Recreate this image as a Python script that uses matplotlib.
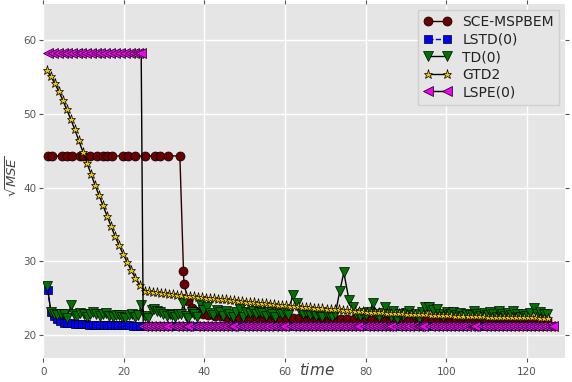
import matplotlib

matplotlib.use("Agg")
import matplotlib.pyplot as plt

# SCE-MSPBEM: flat plateau, sharp drop around t=34
sce_t = [1.2, 2.1, 4.6, 5.8, 7.1, 9.1, 9.9, 11.6, 13.3, 14.9, 15.7, 17.0, 19.9,
         21.1, 22.8, 25.2, 27.7, 29.0, 31.0, 33.9, 34.8, 34.9, 36.0, 36.8, 37.7,
         38.6, 39.6,
         41.0, 42.5, 44.0, 45.5, 47.0, 48.5, 50.0, 51.5, 53.0, 54.5, 56.0, 57.5,
         59.0, 60.5, 62.0, 63.5, 65.0, 66.5, 68.0, 69.5, 71.0, 72.5, 74.0, 75.5,
         77.0, 78.5, 80.0, 81.5, 83.0, 84.5, 86.0, 87.5, 89.0, 90.5, 92.0, 93.5,
         95.0, 96.5, 98.0, 99.5, 101.0, 102.5, 104.0, 105.5, 107.0, 108.5, 110.0,
         111.5, 113.0, 114.5, 116.0, 117.5, 119.0, 120.5, 122.0, 123.5, 125.0]
sce_mse = [44.3, 44.3, 44.3, 44.3, 44.3, 44.3, 44.3, 44.3, 44.3, 44.3, 44.3, 44.3,
           44.3, 44.3, 44.3, 44.3, 44.3, 44.3, 44.3, 44.3, 28.7, 27.0, 24.6, 23.7,
           23.3, 23.0, 22.8,
           22.7, 22.6, 22.6, 22.5, 22.5, 22.5, 22.4, 22.4, 22.4, 22.4, 22.3, 22.3,
           22.3, 22.3, 22.3, 22.3, 22.2, 22.2, 22.2, 22.2, 22.2, 22.2, 22.2, 22.2,
           22.2, 22.1, 22.1, 22.1, 22.1, 22.1, 22.1, 22.1, 22.1, 22.1, 22.1, 22.1,
           22.1, 22.1, 22.0, 22.0, 22.0, 22.0, 22.0, 22.0, 22.0, 22.0, 22.0,
           22.0, 22.0, 22.0, 22.0, 22.0, 22.0, 22.0, 22.0, 22.0, 22.0]

# LSTD(0)
lstd_t = [1.1, 1.9, 2.6, 3.4, 4.2, 5.1, 6.0, 6.9, 7.8, 8.7, 9.6, 10.5, 11.4, 12.3,
          13.2, 14.1, 15.0, 15.9, 16.8, 17.7, 18.6, 19.5, 20.4, 21.3, 22.2, 23.1,
          24.0, 25.3, 27.3, 29.3, 31.4, 33.3, 35.3, 36.8, 38.8, 40.8, 42.8, 44.8,
          46.8, 48.0, 50.0, 52.0, 54.0, 56.0, 58.0, 60.6, 62.6, 64.6, 66.6, 68.6,
          70.6, 72.6, 74.6, 76.6, 78.9, 80.9, 82.9, 84.9, 87.0, 89.0, 91.0, 93.0,
          95.0, 97.0, 99.0, 101.0, 103.0, 105.0, 108.0, 110.0, 112.0, 114.0, 116.0,
          118.0, 120.0, 122.0, 124.0, 125.8]
lstd_mse = [26.1, 23.1, 22.6, 22.2, 21.9, 21.7, 21.6, 21.6, 21.5, 21.5, 21.5, 21.5,
            21.4, 21.4, 21.4, 21.4, 21.4, 21.4, 21.4, 21.35, 21.35, 21.35, 21.35,
            21.35, 21.3, 21.3, 21.3, 21.3, 21.3, 21.3, 21.3, 21.3, 21.3, 21.3, 21.3,
            21.3, 21.3, 21.3, 21.3, 21.3, 21.3, 21.3, 21.3, 21.3, 21.3, 21.3, 21.3,
            21.3, 21.3, 21.3, 21.3, 21.3, 21.3, 21.3, 21.25, 21.25, 21.25, 21.25,
            21.25, 21.25, 21.25, 21.25, 21.25, 21.25, 21.25, 21.25, 21.25, 21.25,
            21.25, 21.25, 21.25, 21.25, 21.25, 21.25, 21.25, 21.25, 21.25, 21.25]

# TD(0): noisy around 23
td_t = [1.0, 1.9, 2.7, 3.5, 4.3, 5.1, 5.9, 6.9, 7.6, 8.4, 9.2, 10.0, 10.8, 11.6,
        12.4, 13.2, 14.0, 14.8, 15.6, 16.4, 17.2, 18.0, 18.8, 19.6, 20.4, 21.2,
        22.0, 22.8, 23.6, 24.3, 25.2, 26.1, 26.9, 27.6, 28.2, 29.0, 29.8, 30.6,
        31.4, 31.9, 32.7, 33.4, 34.1, 34.8, 35.5, 36.0, 36.8, 37.5, 38.2, 38.9,
        39.6, 40.6, 41.4, 42.2, 43.0, 43.8, 44.6, 45.4, 46.2, 47.0, 47.8, 48.8,
        49.6, 50.4, 51.2, 52.0, 52.8, 53.6, 54.4, 55.2, 56.0, 56.8, 57.6, 58.4,
        59.2, 60.0, 60.8, 61.9, 62.9, 63.7, 64.5, 65.3, 66.1, 66.9, 67.7, 68.5,
        69.3, 70.1, 70.9, 71.7, 72.5, 73.6, 74.6, 75.9, 76.9, 77.7, 78.5, 79.3,
        80.1, 80.9, 81.8, 82.6, 83.4, 84.2, 84.8, 85.6, 86.4, 86.9, 87.7, 88.5,
        89.3, 90.1, 90.9, 91.7, 92.5, 93.3, 94.1, 94.8, 95.8, 96.7, 97.7, 98.5,
        99.3, 100.2, 101.0, 101.8, 102.6, 103.4, 104.2, 105.0, 105.8, 106.9,
        107.7, 108.5, 109.3, 110.1, 110.9, 111.7, 112.5, 113.0, 113.8, 114.6,
        115.4, 116.2, 116.7, 117.5, 118.3, 119.1, 119.9, 120.7, 121.8, 122.6,
        123.4, 124.2, 125.0]
td_mse = [26.6, 23.2, 22.9, 22.7, 22.8, 22.9, 22.3, 24.1, 22.8, 22.6, 23.0, 22.9,
          22.4, 22.9, 23.1, 22.8, 22.6, 22.8, 23.0, 22.6, 22.4, 22.7, 22.7, 22.5,
          22.3, 22.7, 22.9, 22.5, 22.7, 24.1, 22.6, 22.3, 23.4, 23.6, 23.3, 23.1,
          22.9, 22.6, 22.8, 22.7, 22.5, 22.8, 22.9, 24.3, 22.6, 22.3, 23.2, 22.9,
          22.5, 24.3, 23.4, 23.8, 23.0, 22.7, 23.4, 23.1, 22.6, 23.3, 22.9, 22.4,
          23.2, 23.6, 22.5, 23.1, 23.0, 23.3, 22.8, 23.2, 23.0, 22.6, 23.2, 22.9,
          22.5, 23.1, 22.8, 23.2, 22.7, 25.5, 24.3, 23.3, 22.9, 23.1, 22.7, 23.0,
          22.6, 22.9, 22.5, 23.0, 22.7, 22.4, 22.9, 26.0, 28.5, 24.7, 23.8, 22.9,
          22.6, 23.0, 22.7, 23.1, 24.3, 22.9, 22.5, 23.0, 23.8, 22.8, 22.4, 23.3,
          22.2, 22.9, 22.6, 23.0, 23.3, 22.7, 22.9, 22.2, 23.1, 23.8, 23.8, 23.4,
          23.6, 22.9, 22.5, 23.2, 22.8, 23.1, 22.7, 23.0, 22.6, 22.9, 22.7, 23.3,
          22.9, 22.6, 23.0, 22.7, 23.1, 22.8, 22.5, 23.3, 22.9, 22.6, 23.0, 22.7,
          23.3, 22.9, 22.5, 22.8, 22.6, 23.0, 23.7, 22.9, 23.2, 22.8, 22.9]

# GTD2: steep linear descent, then slow decay
gtd2_t = [0.8, 1.8, 2.8, 3.8, 4.8, 5.8, 6.8, 7.8, 8.8, 9.8, 10.8, 11.8, 12.8,
          13.8, 14.8, 15.8, 16.8, 17.8, 18.8, 19.8, 20.8, 21.8, 22.8, 23.9,
          25.3, 26.3, 27.3, 28.3, 29.3, 30.3, 31.3, 32.3, 33.3, 34.3, 35.3, 36.3,
          37.3, 38.3, 39.3, 40.3, 41.3, 42.3, 43.3, 44.3, 45.3, 46.3, 47.3, 48.3,
          49.3, 50.3, 51.3, 52.3, 53.3, 54.3, 55.3, 56.3, 57.3, 58.3, 59.3, 60.3,
          61.3, 62.3, 63.3, 64.3, 65.3, 66.3, 67.3, 68.3, 69.3, 70.3, 71.3, 72.3,
          73.3, 74.3, 75.3, 76.3, 77.3, 78.3, 79.3, 80.3, 81.3, 82.3, 83.3, 84.3,
          85.3, 86.3, 87.3, 88.3, 89.3, 90.3, 91.3, 92.3, 93.3, 94.3, 95.3, 96.3,
          97.3, 98.3, 99.3, 100.3, 101.3, 102.3, 103.3, 104.3, 105.3, 106.3,
          107.3, 108.3, 109.3, 110.3, 111.3, 112.3, 113.3, 114.3, 115.3, 116.3,
          117.3, 118.3, 119.3, 120.3, 121.3, 122.3, 123.3, 124.3, 125.3]
gtd2_mse = [56.0, 55.1, 54.2, 53.1, 51.9, 50.6, 49.3, 47.9, 46.4, 44.9, 43.4, 41.9,
            40.4, 39.0, 37.6, 36.2, 34.8, 33.4, 32.2, 31.0, 29.9, 28.8, 27.8, 26.8,
            26.0, 25.95, 25.9, 25.8, 25.75, 25.7, 25.6, 25.55, 25.5, 25.4, 25.35,
            25.3, 25.25, 25.2, 25.15, 25.1, 25.05, 25.0, 24.95, 24.9, 24.85, 24.8,
            24.7, 24.65, 24.6, 24.55, 24.5, 24.45, 24.4, 24.35, 24.3, 24.25, 24.2,
            24.15, 24.1, 24.05, 24.0, 23.95, 23.9, 23.85, 23.8, 23.75, 23.7, 23.7,
            23.65, 23.6, 23.55, 23.5, 23.5, 23.45, 23.4, 23.35, 23.3, 23.3, 23.25,
            23.2, 23.2, 23.15, 23.1, 23.1, 23.05, 23.0, 23.0, 22.95, 22.95, 22.9,
            22.9, 22.85, 22.85, 22.8, 22.8, 22.75, 22.75, 22.7, 22.7, 22.7, 22.7,
            22.65, 22.65, 22.6, 22.6, 22.6, 22.55, 22.55, 22.55, 22.5, 22.5, 22.5,
            22.5, 22.45, 22.45, 22.45, 22.45, 22.4, 22.4, 22.4, 22.4, 22.4, 22.35,
            22.35, 22.35]

# LSPE(0): stuck high until t~24, then drops to the LSTD level
lspe_t = [1.2, 2.4, 3.6, 4.8, 6.0, 7.0, 8.3, 9.4, 10.6, 11.8, 13.0, 14.1, 15.2,
          16.6, 17.8, 19.0, 20.2, 21.4, 22.5, 23.5, 24.3,
          24.8, 25.8, 26.8, 27.8, 28.8, 29.8, 30.6,
          32.4, 33.4, 34.4, 35.3, 36.0,
          37.6, 38.6, 39.6, 40.6, 41.6, 42.6, 43.6, 44.6, 45.6, 46.5, 47.2,
          48.9, 49.9, 50.9, 51.9, 52.9, 53.9, 54.9, 55.9, 56.9, 57.9, 58.9, 59.8,
          61.5, 62.5, 63.5, 64.5, 65.5, 66.5, 67.5, 68.5, 69.5, 70.5, 71.5, 72.5,
          73.5, 74.5, 75.5, 76.5, 77.4, 78.1,
          79.8, 80.8, 81.8, 82.8, 83.8, 84.8, 85.6, 86.2,
          87.9, 88.9, 89.9, 90.9, 91.9, 92.9, 93.6, 94.2,
          95.9, 96.9, 97.9, 98.9, 99.9, 100.9, 101.9, 102.9, 103.9, 104.9, 105.9,
          106.6, 107.2,
          108.9, 109.9, 110.9, 111.9, 112.9, 113.9, 114.9, 115.9, 116.9, 117.9,
          118.9, 119.9, 120.9, 121.9, 122.9, 123.9, 124.9, 125.8, 126.5]
lspe_mse = [58.2, 58.2, 58.2, 58.2, 58.2, 58.2, 58.2, 58.2, 58.2, 58.2, 58.2, 58.2,
            58.2, 58.2, 58.2, 58.2, 58.2, 58.2, 58.2, 58.2, 58.2,
            21.3, 21.3, 21.3, 21.3, 21.3, 21.3, 21.3,
            21.3, 21.3, 21.3, 21.3, 21.3,
            21.3, 21.3, 21.3, 21.3, 21.3, 21.3, 21.3, 21.3, 21.3, 21.3, 21.3,
            21.3, 21.3, 21.3, 21.3, 21.3, 21.3, 21.3, 21.3, 21.3, 21.3, 21.3, 21.3,
            21.25, 21.25, 21.25, 21.25, 21.25, 21.25, 21.25, 21.25, 21.25, 21.25,
            21.25, 21.25, 21.25, 21.25, 21.25, 21.25, 21.25, 21.25,
            21.25, 21.25, 21.25, 21.25, 21.25, 21.25, 21.25, 21.25,
            21.25, 21.25, 21.25, 21.25, 21.25, 21.25, 21.25, 21.25,
            21.2, 21.2, 21.2, 21.2, 21.2, 21.2, 21.2, 21.2, 21.2, 21.2, 21.2,
            21.2, 21.2,
            21.2, 21.2, 21.2, 21.2, 21.2, 21.2, 21.2, 21.2, 21.2, 21.2,
            21.2, 21.2, 21.2, 21.2, 21.2, 21.2, 21.2, 21.2, 21.2]

x_ticks = [0, 20, 40, 60, 80, 100, 120]
y_ticks = [20, 30, 40, 50, 60]

GRAY = "#555555"

fig = plt.figure(figsize=(5.72, 3.82), dpi=100)
ax = fig.add_axes([43.3 / 572, 24 / 382, (565 - 43.3) / 572, (358 - 4) / 382])
ax.set_facecolor("#e5e5e5")
ax.grid(True, color="white", lw=1.0)
ax.set_axisbelow(True)
for s in ax.spines.values():
    s.set_visible(False)

mk = dict(mec="black", mew=0.5)
ax.plot(sce_t, sce_mse, "-", color="#2a0000", lw=1.0, marker="o", ms=6.5,
        mfc="#6b0000", label="SCE-MSPBEM", **mk)
ax.plot(lstd_t, lstd_mse, "--", color="blue", lw=1.0, marker="s", ms=5.5,
        mfc="blue", label="LSTD(0)", **mk)
ax.plot(td_t, td_mse, "-", color="black", lw=1.0, marker="v", ms=7,
        mfc="#007400", label="TD(0)", **mk)
ax.plot(gtd2_t, gtd2_mse, "-", color="black", lw=1.0, marker="*", ms=6.5,
        mfc="#f0c800", label="GTD2", **mk)
ax.plot(lspe_t, lspe_mse, "-", color="black", lw=1.0, marker="<", ms=7,
        mfc="#f000f0", label="LSPE(0)", **mk)

ax.set_xlim(0, 129.5)
ax.set_ylim(16.9, 64.9)
ax.set_xticks(x_ticks)
ax.set_yticks(y_ticks)
ax.tick_params(direction="out", length=3, width=0.8, color=GRAY, labelcolor=GRAY,
               labelsize=7.5, top=True, right=True, pad=2)
ax.tick_params(axis="x", pad=3.5)

ax.set_xlabel("$time$", fontsize=11, color="#444444")
ax.xaxis.set_label_coords(0.525, -0.012)
ax.set_ylabel(r"$\sqrt{MSE}$", fontsize=9.5, color="#444444")
ax.yaxis.set_label_coords(-0.045, 0.514)

leg = ax.legend(loc="upper right", numpoints=2, fontsize=10, labelspacing=0.25,
                fancybox=False, facecolor="#e5e5e5", edgecolor="#d0d0d0",
                framealpha=1.0, borderaxespad=0.4)
for t in leg.get_texts():
    t.set_color("#222222")

fig.savefig("out.png", dpi=100)
